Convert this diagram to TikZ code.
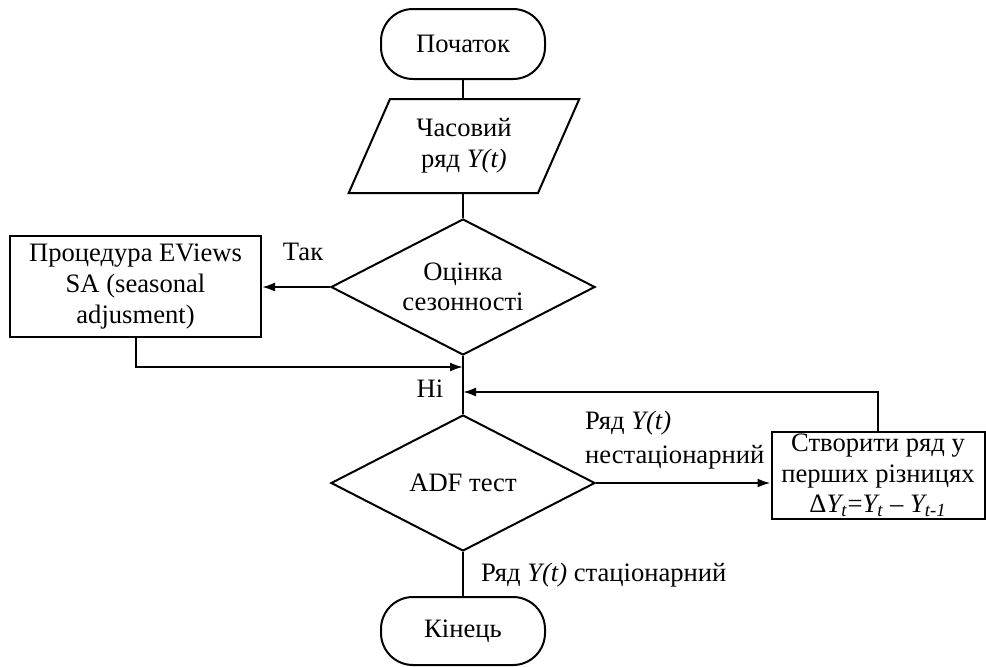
\documentclass[tikz,border=0pt]{standalone}
\usepackage{fontspec}
\setmainfont{Liberation Serif}
\usetikzlibrary{calc,positioning,arrows.meta,shapes.geometric}

\tikzset{
  every node/.style={font=\fontsize{13.3}{15.3}\selectfont},
  term/.style={draw,line width=1pt,rounded corners=16pt,minimum width=82pt,
    minimum height=35pt,inner sep=0pt},
  iobox/.style={draw,line width=1pt,trapezium,trapezium left angle=64,
    trapezium right angle=116,trapezium stretches=true,minimum width=116pt,
    minimum height=47pt,inner sep=0pt,align=center},
  decision/.style={draw,line width=1pt,diamond,shape aspect=1.94,minimum width=132pt,
    minimum height=68pt,inner sep=-2.5pt,align=center},
  procbox/.style={draw,line width=1pt,rectangle,align=center,inner sep=0pt},
  flow/.style={line width=1pt},
  arrowflow/.style={line width=1pt,-{Latex[length=6.5pt,width=4.5pt]}}
}

\begin{document}
\begin{tikzpicture}[x=0.5pt,y=-0.5pt]
  \useasboundingbox (0,0) rectangle (986,666);

  % main column
  \node[term] (start) at (463,44) {Початок};
  \node[iobox] (series) at (464,146) {Часовий\\ряд \textit{Y(t)}};
  \node[decision] (season) at (463,287) {Оцінка\\сезонності};
  \node[decision] (adf) at (463,483) {ADF тест};
  \node[term,minimum height=34pt] (stop) at (463,631) {Кінець};

  % side boxes
  \node[procbox,minimum width=125.5pt,minimum height=50.5pt] (eviews) at (135.5,286.5)
    {Процедура EViews\\SA (seasonal\\adjusment)};
  \node[procbox,minimum width=106.5pt,minimum height=43.5pt] (diff) at (878,475.5)
    {Створити ряд у\\перших різницях\\
     Δ\textit{Y\textsubscript{t}}=\textit{Y\textsubscript{t}} – \textit{Y\textsubscript{t-1}}};

  \coordinate (merge) at (463,367);
  \coordinate (loop) at (463,392);

  \draw[flow] (start) -- (start |- series.north);
  \draw[flow] (start |- series.south) -- (season);
  \draw[arrowflow] (season.west) -- (eviews.east |- season.west);
  \draw[arrowflow] (eviews.south) |- (merge);
  \draw[flow] (season.south) -- (adf.north);
  \draw[arrowflow] (diff.north) |- (loop);
  \draw[arrowflow] (adf.east) -- (diff.west |- adf.east);
  \draw[flow] (adf.south) -- (stop.north);

  % labels
  \node (yes) at (303,252) {Так};
  \node (no) at (430,389) {Ні};
  \node[anchor=west,align=left] (nonstat) at (578,440)
    {Ряд \textit{Y(t)}\\[2pt]нестаціонарний};
  \node[anchor=west] (stat) at (474,575) {Ряд \textit{Y(t)} стаціонарний};
\end{tikzpicture}
\end{document}
